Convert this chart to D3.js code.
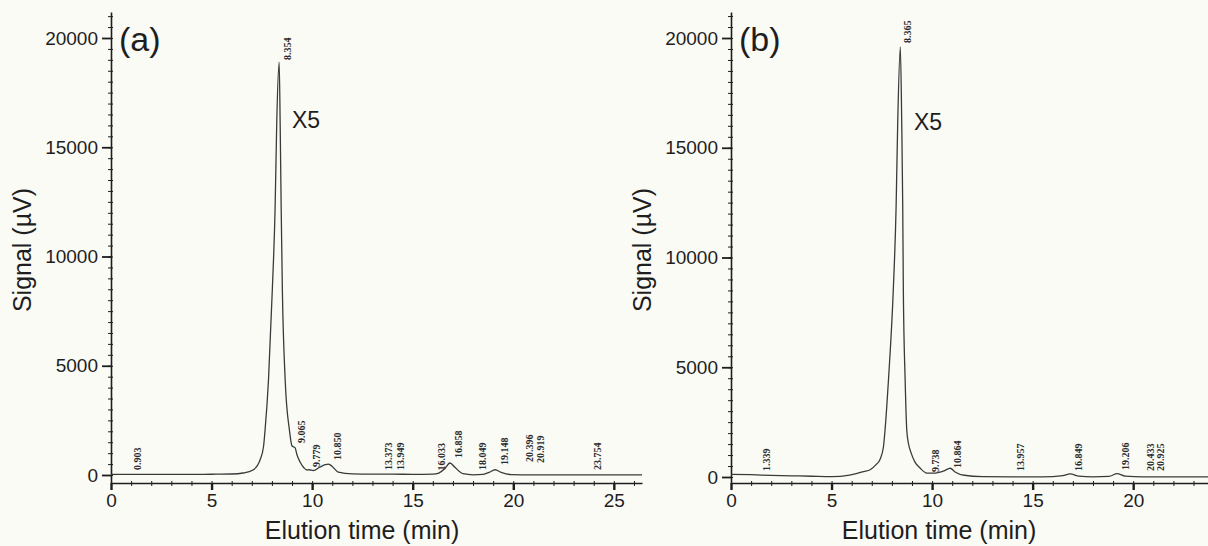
<!DOCTYPE html>
<html lang="en">
<head>
  <meta charset="UTF-8">
  <title>HPLC chromatograms (a) and (b)</title>
  <style>
    html, body { margin: 0; padding: 0; background: #fbfbf6; }
    svg { display: block; }
    .axis path, .axis line { stroke: #1e1e1e; }
    .tickLabel { font-family: "Liberation Sans", Arial, sans-serif; font-size: 19px; fill: #1e1e1e; }
    .axisTitle { font-family: "Liberation Sans", Arial, sans-serif; font-size: 25px; fill: #1e1e1e; }
    .peakLabel { font-family: "Liberation Serif", "Times New Roman", serif; font-size: 10px; fill: #2a2a2a; font-weight: bold; }
  </style>
</head>
<body>
  <script src="https://d3js.org/d3.v7.min.js"></script>
  <script>
    const SVGWIDTH = 1208;
    const SVGHEIGHT = 546;

    // panel (a) trace
    const timeA = [0, 1, 2, 3, 4, 5, 6, 6.57, 7.06, 7.41, 7.58, 7.66, 7.83, 8.02, 8.16, 8.24, 8.36, 8.41, 8.46, 8.52,
      8.66, 8.87, 9.0, 9.15, 9.25, 9.4, 9.6, 9.74, 9.85, 10.05, 10.4, 10.65, 10.8, 10.95, 11.3, 12, 13, 14, 15, 16,
      16.3, 16.6, 16.85, 17.1, 17.5, 18, 18.5, 18.8, 19.1, 19.4, 19.9, 21, 22, 23, 24, 25, 26.4];
    const signalA = [30, 30, 30, 30, 30, 35, 45, 92, 229, 686, 1281, 2060, 4348, 8467, 12265, 16110, 18900, 16110, 12265, 8467,
      4348, 2060, 1327, 1250, 915, 595, 320, 229, 240, 200, 366, 470, 500, 430, 137, 50, 40, 40, 30, 40,
      90, 300, 550, 350, 60, 10, 30, 120, 240, 120, 20, 10, 10, 10, 10, 10, 10];
    const peakTimesA = [0.903, 8.354, 9.065, 9.779, 10.850, 13.373, 13.949, 16.033, 16.858, 18.049, 19.148, 20.396, 20.919, 23.754];
    const peakTextA = ['0.903', '8.354', '9.065', '9.779', '10.850', '13.373', '13.949', '16.033', '16.858', '18.049', '19.148', '20.396', '20.919', '23.754'];
    const peakSignalA = [45, 18810, 1280, 180, 500, 45, 45, 20, 595, 45, 275, 410, 366, 45];

    // panel (b) trace
    const timeB = [0, 1, 2, 3, 4, 5, 5.9, 6.6, 6.92, 7.2, 7.41, 7.58, 7.66, 7.83, 8.07, 8.21, 8.29, 8.42, 8.49, 8.54,
      8.57, 8.66, 8.74, 8.82, 8.96, 9.15, 9.4, 9.74, 10.15, 10.6, 10.9, 11.14, 11.6, 12.5, 14, 15, 16, 16.5, 16.87,
      17.3, 18, 18.8, 19.2, 19.6, 20.5, 22, 23.72];
    const signalB = [123, 105, 75, 55, 35, 14, 90, 250, 330, 550, 800, 1367, 2141, 4419, 8519, 12300, 16128, 19590, 16128, 12300,
      8519, 4419, 2141, 1550, 1090, 680, 410, 180, 180, 280, 400, 230, 80, 20, 10, 10, 20, 60, 140,
      40, 10, 30, 150, 40, 10, 10, 10];
    const peakTimesB = [1.339, 8.365, 9.738, 10.864, 13.957, 16.849, 19.206, 20.433, 20.925];
    const peakTextB = ['1.339', '8.365', '9.738', '10.864', '13.957', '16.849', '19.206', '20.433', '20.925'];
    const peakSignalB = [90, 19590, 45, 230, 90, 90, 135, 90, 90];

    const yTicks = [0, 5000, 10000, 15000, 20000];
    const xTicksA = [0, 5, 10, 15, 20, 25];
    const xTicksB = [0, 5, 10, 15, 20];

    const svg = d3.select('body').append('svg')
      .attr('width', SVGWIDTH)
      .attr('height', SVGHEIGHT);

    function drawPanel (opt) {
      const x = d3.scaleLinear().domain(opt.xDomain).range(opt.xRange);
      const y = d3.scaleLinear().domain(opt.yDomain).range([483, 12]);
      const g = svg.append('g');
      const x0 = opt.xRange[0];

      // y axis: minor ticks every 500, then major
      const yMinor = d3.range(0, opt.yDomain[1], 500);
      g.append('g').attr('class', 'axis')
        .attr('transform', `translate(${x0},0)`)
        .call(d3.axisLeft(y).tickValues(yMinor).tickSize(3).tickSizeOuter(0).tickFormat(''))
        .call(a => a.select('.domain').attr('stroke-width', 1.6))
        .call(a => a.selectAll('.tick line').attr('x2', 2).attr('x1', -3).attr('stroke-width', 1));
      g.append('g').attr('class', 'axis')
        .attr('transform', `translate(${x0},0)`)
        .call(d3.axisLeft(y).tickValues(yTicks).tickSize(9).tickSizeOuter(0).tickPadding(4).tickFormat(d3.format('d')))
        .call(a => a.select('.domain').remove())
        .call(a => a.selectAll('.tick line').attr('stroke-width', 1.8))
        .call(a => a.selectAll('.tick text').attr('class', 'tickLabel').attr('font-size', null).attr('font-family', null));

      // x axis
      const xMinor = d3.range(0, opt.xDomain[1], 1);
      g.append('g').attr('class', 'axis')
        .attr('transform', `translate(0,${y(opt.yDomain[0])})`)
        .call(d3.axisBottom(x).tickValues(xMinor).tickSize(3).tickSizeOuter(0).tickFormat(''))
        .call(a => a.select('.domain').attr('stroke-width', 1.6))
        .call(a => a.selectAll('.tick line').attr('y1', -2).attr('stroke-width', 1));
      g.append('g').attr('class', 'axis')
        .attr('transform', `translate(0,${y(opt.yDomain[0])})`)
        .call(d3.axisBottom(x).tickValues(opt.xTicks).tickSize(7).tickSizeOuter(0).tickPadding(4).tickFormat(d3.format('d')))
        .call(a => a.select('.domain').remove())
        .call(a => a.selectAll('.tick line').attr('stroke-width', 2.4))
        .call(a => a.selectAll('.tick text').attr('class', 'tickLabel').attr('font-size', null).attr('font-family', null));

      // trace
      const pts = opt.time.map((t, i) => [t, opt.signal[i]]);
      g.append('path')
        .datum(pts)
        .attr('fill', 'none')
        .attr('stroke', '#3a3a3a')
        .attr('stroke-width', 1.3)
        .attr('d', d3.line().x(d => x(d[0])).y(d => y(d[1])).curve(d3.curveMonotoneX));

      // retention time labels
      g.selectAll('.peakLabel')
        .data(opt.peakTimes)
        .enter()
        .append('text')
        .attr('class', 'peakLabel')
        .attr('transform', (d, i) => `translate(${x(d) + 12},${y(opt.peakSignal[i]) - 4}) rotate(-90)`)
        .text((d, i) => opt.peakText[i]);

      // titles
      g.append('text').attr('class', 'axisTitle')
        .attr('text-anchor', 'middle')
        .attr('x', opt.xTitleX).attr('y', 539)
        .text('Elution time (min)');
      g.append('text').attr('class', 'axisTitle')
        .attr('text-anchor', 'middle')
        .attr('transform', `translate(${opt.yTitleX},250) rotate(-90)`)
        .text('Signal (\u00b5V)');

      g.append('text').attr('class', 'axisTitle')
        .style('font-size', '34px')
        .attr('x', x0 + 8).attr('y', 51)
        .text(opt.tag);
      g.append('text').attr('class', 'axisTitle')
        .style('font-size', '23px')
        .attr('x', x(opt.x5[0])).attr('y', y(opt.x5[1]))
        .text('X5');
    }

    drawPanel({
      xDomain: [0, 26.4], xRange: [111, 642], yDomain: [-366, 21190], xTicks: xTicksA,
      time: timeA, signal: signalA, peakTimes: peakTimesA, peakText: peakTextA, peakSignal: peakSignalA,
      xTitleX: 362, yTitleX: 31, tag: '(a)', x5: [9.0, 15880]
    });
    drawPanel({
      xDomain: [0, 23.72], xRange: [731, 1208], yDomain: [-273, 21185], xTicks: xTicksB,
      time: timeB, signal: signalB, peakTimes: peakTimesB, peakText: peakTextB, peakSignal: peakSignalB,
      xTitleX: 939, yTitleX: 651, tag: '(b)', x5: [9.1, 15790]
    });
  </script>
</body>
</html>
